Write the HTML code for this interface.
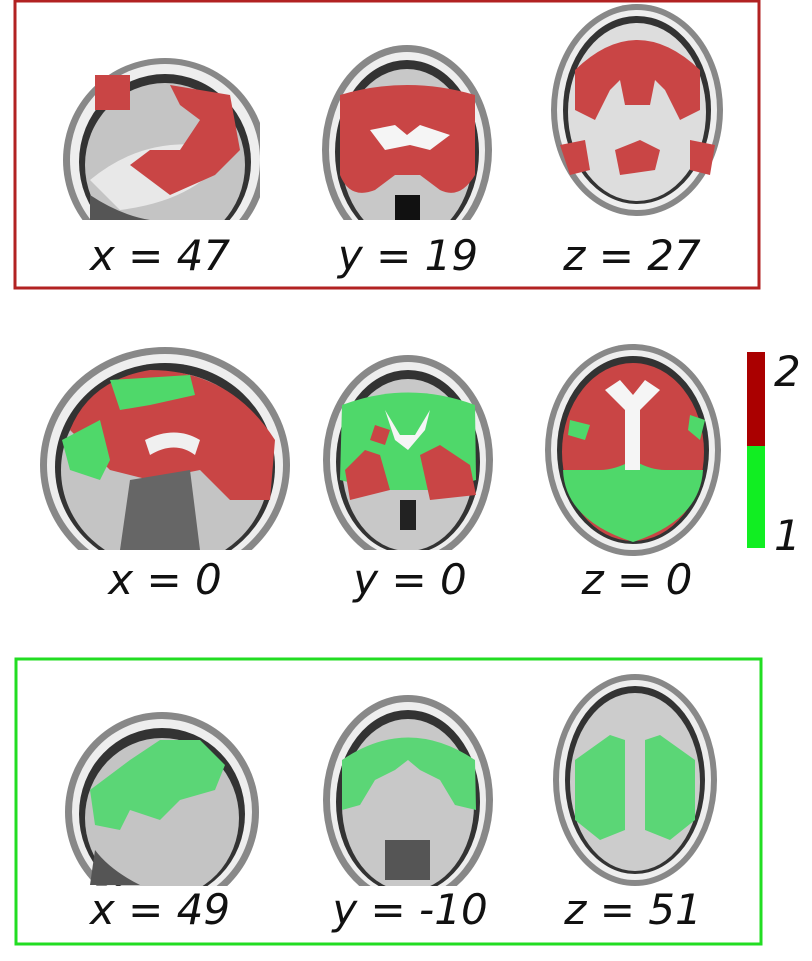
<!DOCTYPE html>
<html><head><meta charset="utf-8"><style>
html,body{margin:0;padding:0;background:#fff;}
svg{display:block;}
text{font-family:"DejaVu Sans","Liberation Sans",sans-serif;font-style:italic;font-size:42px;fill:#111;}
</style></head><body>
<svg width="812" height="961" viewBox="0 0 812 961">
<defs>
<clipPath id="cs1"><rect x="60" y="40" width="200" height="180"/></clipPath>
<clipPath id="cc1"><rect x="315" y="40" width="180" height="180"/></clipPath>
<clipPath id="cs2"><rect x="38" y="330" width="255" height="220"/></clipPath>
<clipPath id="cc2"><rect x="320" y="340" width="175" height="210"/></clipPath>
<clipPath id="cs3"><rect x="65" y="700" width="195" height="186"/></clipPath>
<clipPath id="cc3"><rect x="320" y="690" width="175" height="196"/></clipPath>
</defs>

<!-- Top panel -->
<rect x="15" y="1" width="744" height="287" fill="none" stroke="#b22222" stroke-width="3"/>
<g clip-path="url(#cs1)">
 <ellipse cx="165" cy="160" rx="102" ry="102" fill="#888"/>
 <ellipse cx="165" cy="160" rx="95" ry="96" fill="#eee"/>
 <ellipse cx="165" cy="162" rx="86" ry="88" fill="#333"/>
 <ellipse cx="165" cy="165" rx="80" ry="82" fill="#c4c4c4"/>
 <path d="M90 180 Q150 130 230 150 Q200 200 120 210 Z" fill="#e8e8e8"/>
 <path d="M90 195 Q120 215 150 220 L90 220Z" fill="#555"/>
 <path d="M95 75 L130 75 L130 110 L95 110Z M170 85 L230 95 L240 150 L215 175 L170 195 L130 165 L150 150 L180 150 L200 120 L180 105Z" fill="#c94545"/>
</g>
<g clip-path="url(#cc1)">
 <ellipse cx="407" cy="150" rx="85" ry="105" fill="#888"/>
 <ellipse cx="407" cy="150" rx="78" ry="98" fill="#eee"/>
 <ellipse cx="407" cy="152" rx="72" ry="92" fill="#333"/>
 <ellipse cx="407" cy="155" rx="66" ry="86" fill="#c8c8c8"/>
 <path d="M340 95 Q407 75 475 95 L475 175 Q460 200 440 190 L420 175 L395 175 L375 190 Q350 200 340 175Z" fill="#c94545"/>
 <path d="M370 130 L395 125 L407 135 L420 125 L450 135 L430 150 L410 145 L385 150Z" fill="#f5f5f5"/>
 <rect x="395" y="195" width="25" height="25" fill="#111"/>
</g>
<g>
 <ellipse cx="637" cy="110" rx="86" ry="106" fill="#888"/>
 <ellipse cx="637" cy="110" rx="80" ry="100" fill="#eee"/>
 <ellipse cx="637" cy="110" rx="74" ry="94" fill="#333"/>
 <ellipse cx="637" cy="112" rx="69" ry="89" fill="#ddd"/>
 <path d="M575 70 Q637 10 700 70 L700 110 L680 120 L665 90 L655 80 L650 105 L625 105 L620 80 L610 90 L595 120 L575 110Z" fill="#c94545"/>
 <path d="M560 145 L585 140 L590 170 L570 175Z M615 150 L640 140 L660 150 L655 170 L620 175Z M690 140 L715 145 L710 175 L690 170Z" fill="#c94545"/>
</g>
<text x="160" y="270" text-anchor="middle">x = 47</text>
<text x="408" y="270" text-anchor="middle">y = 19</text>
<text x="632" y="270" text-anchor="middle">z = 27</text>

<!-- Middle row -->
<g clip-path="url(#cs2)">
 <ellipse cx="165" cy="465" rx="125" ry="118" fill="#888"/>
 <ellipse cx="165" cy="465" rx="118" ry="111" fill="#eee"/>
 <ellipse cx="165" cy="467" rx="110" ry="104" fill="#333"/>
 <ellipse cx="165" cy="470" rx="104" ry="98" fill="#c4c4c4"/>
 <path d="M70 430 Q90 380 150 370 Q230 370 275 440 L270 500 L230 500 L200 470 L150 480 L110 470Z" fill="#c94545"/>
 <path d="M110 380 L190 375 L195 395 L150 405 L120 410 Z M62 440 L100 420 L110 460 L100 480 L70 470Z" fill="#4fd86a"/>
 <path d="M145 440 Q175 425 200 440 L195 455 Q175 440 150 455Z" fill="#f0f0f0"/>
 <path d="M130 480 L190 470 L200 550 L120 550Z" fill="#666"/>
</g>
<g clip-path="url(#cc2)">
 <ellipse cx="408" cy="460" rx="85" ry="105" fill="#888"/>
 <ellipse cx="408" cy="460" rx="78" ry="98" fill="#eee"/>
 <ellipse cx="408" cy="462" rx="72" ry="92" fill="#333"/>
 <ellipse cx="408" cy="465" rx="66" ry="86" fill="#c8c8c8"/>
 <path d="M342 405 Q408 380 475 405 L476 480 L440 490 L380 490 L340 480Z" fill="#4fd86a"/>
 <path d="M345 470 L365 450 L380 455 L390 490 L350 500Z M420 455 L440 445 L470 465 L476 495 L430 500Z M375 425 L390 430 L385 445 L370 440Z" fill="#c94545"/>
 <path d="M385 410 L395 440 L408 450 L425 430 L430 410 L415 435 L400 435Z" fill="#f5f5f5"/>
 <rect x="400" y="500" width="16" height="30" fill="#222"/>
</g>
<g>
 <ellipse cx="633" cy="450" rx="88" ry="106" fill="#888"/>
 <ellipse cx="633" cy="450" rx="82" ry="100" fill="#eee"/>
 <ellipse cx="633" cy="450" rx="76" ry="94" fill="#333"/>
 <ellipse cx="633" cy="452" rx="71" ry="89" fill="#c94545"/>
 <path d="M563 470 L600 470 Q615 470 633 460 Q650 470 665 470 L703 470 Q700 520 633 542 Q565 520 563 470Z" fill="#4fd86a"/>
 <path d="M605 390 L620 380 L633 395 L645 380 L660 390 L640 410 L640 470 L625 470 L625 410Z" fill="#f5f5f5"/>
 <path d="M570 420 L590 425 L585 440 L568 435Z M690 415 L705 420 L700 440 L688 430Z" fill="#4fd86a"/>
</g>
<g>
 <rect x="747" y="352" width="18" height="94" fill="#aa0000"/>
 <rect x="747" y="446" width="18" height="102" fill="#11ee22"/>
 <text x="774" y="386">2</text>
 <text x="774" y="550">1</text>
</g>
<text x="165" y="594" text-anchor="middle">x = 0</text>
<text x="410" y="594" text-anchor="middle">y = 0</text>
<text x="637" y="594" text-anchor="middle">z = 0</text>

<!-- Bottom panel -->
<rect x="16" y="659" width="745" height="285" fill="none" stroke="#22dd22" stroke-width="3"/>
<g clip-path="url(#cs3)">
 <ellipse cx="162" cy="812" rx="97" ry="100" fill="#888"/>
 <ellipse cx="162" cy="812" rx="90" ry="93" fill="#eee"/>
 <ellipse cx="162" cy="814" rx="83" ry="86" fill="#333"/>
 <ellipse cx="162" cy="818" rx="77" ry="80" fill="#c4c4c4"/>
 <path d="M90 790 L130 760 L160 740 L200 740 L225 765 L215 790 L180 800 L160 820 L130 810 L120 830 L95 825Z" fill="#5bd676"/>
 <path d="M95 850 Q110 870 140 885 L90 885Z" fill="#555"/>
</g>
<g clip-path="url(#cc3)">
 <ellipse cx="408" cy="800" rx="85" ry="105" fill="#888"/>
 <ellipse cx="408" cy="800" rx="78" ry="98" fill="#eee"/>
 <ellipse cx="408" cy="802" rx="72" ry="92" fill="#333"/>
 <ellipse cx="408" cy="805" rx="66" ry="86" fill="#c8c8c8"/>
 <path d="M342 760 Q408 715 475 760 L476 810 L455 805 L440 780 L420 770 L408 760 L395 770 L375 780 L360 805 L342 810Z" fill="#5bd676"/>
 <rect x="385" y="840" width="45" height="40" fill="#555"/>
</g>
<g>
 <ellipse cx="635" cy="780" rx="82" ry="106" fill="#888"/>
 <ellipse cx="635" cy="780" rx="76" ry="100" fill="#eee"/>
 <ellipse cx="635" cy="780" rx="70" ry="94" fill="#333"/>
 <ellipse cx="635" cy="782" rx="65" ry="89" fill="#ccc"/>
 <path d="M575 760 L610 735 L625 740 L625 830 L600 840 L575 820Z M645 740 L660 735 L695 760 L695 820 L670 840 L645 830Z" fill="#5bd676"/>
</g>
<text x="160" y="924" text-anchor="middle">x = 49</text>
<text x="410" y="924" text-anchor="middle">y = -10</text>
<text x="633" y="924" text-anchor="middle">z = 51</text>
</svg>
</body></html>
